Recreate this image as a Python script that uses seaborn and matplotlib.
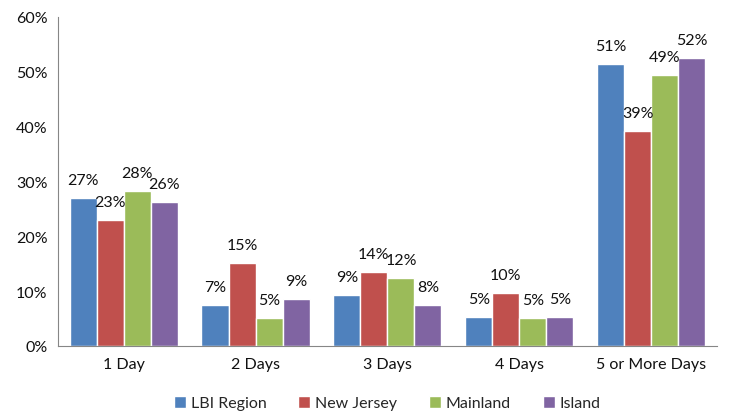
import pandas as pd
import matplotlib.pyplot as plt
import seaborn as sns
from matplotlib.ticker import PercentFormatter, FixedLocator

categories = ["1 Day", "2 Days", "3 Days", "4 Days", "5 or More Days"]
groups = ["LBI Region", "New Jersey", "Mainland", "Island"]
lbi = [26.9, 7.4, 9.2, 5.3, 51.4]
nj = [23.0, 15.1, 13.5, 9.6, 39.2]
mainland = [28.3, 5.1, 12.3, 5.1, 49.4]
island = [26.2, 8.6, 7.5, 5.3, 52.4]
colors = ["#4F81BD", "#C0504D", "#9BBB59", "#8064A2"]

rows = []
for g, vals in zip(groups, [lbi, nj, mainland, island]):
    for c, v in zip(categories, vals):
        rows.append({"category": c, "group": g, "value": v})
df = pd.DataFrame(rows)

sns.set_style("white")
plt.rcParams['font.family'] = ['Lato', 'DejaVu Sans']

fig, ax = plt.subplots(figsize=(7.31, 4.14), dpi=100)
fig.subplots_adjust(left=0.079, right=0.981, top=0.957, bottom=0.162)

sns.barplot(data=df, x="category", y="value", hue="group", palette=colors,
            width=0.82, saturation=1, ax=ax, errorbar=None)

for cont in ax.containers:
    ax.bar_label(cont, labels=[f"{v:.0f}%" for v in cont.datavalues],
                 padding=8, fontsize=11.5, color="#111111")

ax.set_ylim(0, 60)
ax.set_yticks(range(0, 61, 10))
ax.yaxis.set_major_formatter(PercentFormatter(decimals=0))
ax.set_xlim(-0.5, 4.5)
ax.set_xlabel("")
ax.set_ylabel("")
ax.tick_params(axis="both", labelsize=11.5, colors="#111111")
ax.tick_params(axis="x", which="major", length=0, pad=8)
ax.tick_params(axis="y", length=4, color="#868686", direction="out")
ax.xaxis.set_minor_locator(FixedLocator([-0.5, 0.5, 1.5, 2.5, 3.5, 4.5]))
ax.tick_params(axis="x", which="minor", length=5, color="#868686", direction="out")
for s in ["top", "right"]:
    ax.spines[s].set_visible(False)
for s in ["left", "bottom"]:
    ax.spines[s].set_color("#868686")

ax.legend(loc="upper center", bbox_to_anchor=(0.5, -0.125), ncol=4, frameon=False,
          fontsize=11.5, handlelength=0.75, handleheight=0.75, handletextpad=0.3,
          columnspacing=2.0, borderpad=0.05)

plt.savefig("out.png", dpi=100)
